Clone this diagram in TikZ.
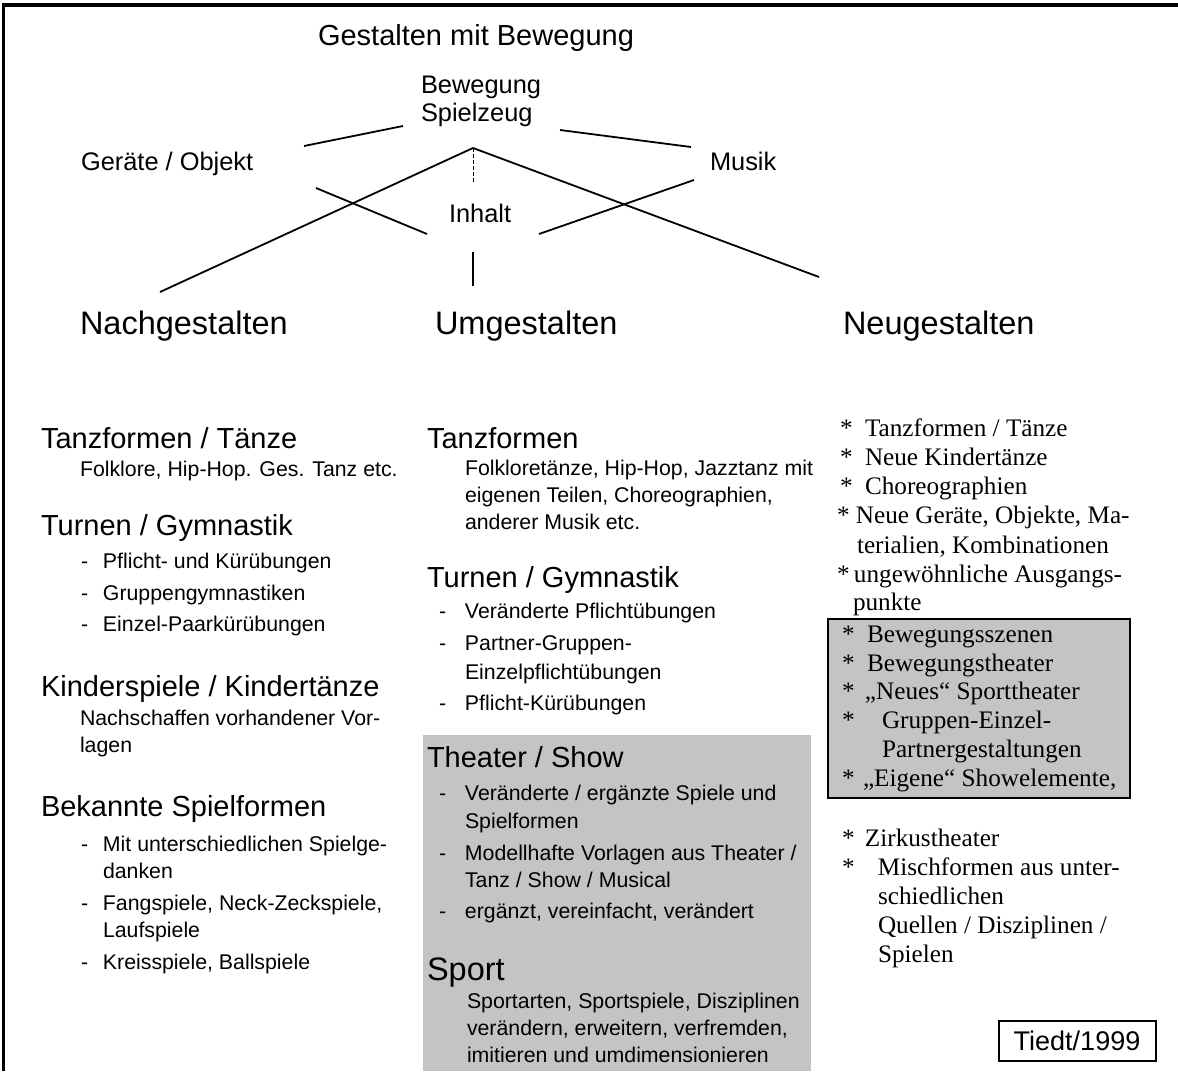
\documentclass[tikz,border=0pt]{standalone}
\usepackage{fontspec}
\setmainfont{Liberation Sans}
\newfontfamily\serifrm{Liberation Serif}
\definecolor{boxgray}{RGB}{196,196,196}
\begin{document}
\begin{tikzpicture}[x=1pt,y=-1pt,
  t/.style={anchor=base west,inner sep=0pt,outer sep=0pt},
  toptitle/.style={t,font=\fontsize{29}{34}\selectfont},
  apexlbl/.style={t,font=\fontsize{25.4}{28}\selectfont},
  colhead/.style={t,font=\fontsize{32.5}{38}\selectfont},
  sechead/.style={t,font=\fontsize{29}{34}\selectfont},
  subtxt/.style={t,font=\fontsize{21.3}{26}\selectfont},
  sertxt/.style={t,font=\serifrm\fontsize{25.2}{29}\selectfont},
  conn/.style={line width=1.8pt},
  frameline/.style={line width=3.5pt},
  graybox/.style={fill=boxgray,draw=none},
  grayframe/.style={fill=boxgray,draw=black,line width=2.2pt},
  signbox/.style={draw=black,line width=2pt,fill=white}
]
\useasboundingbox (0,0) rectangle (1178,1071);
\fill[white] (0,0) rectangle (1178,1071);
% frame
\draw[frameline] (1.5,5) -- (1178,5);
\draw[line width=3pt] (3,3) -- (3,1071);

% gray areas
\path[graybox] (423,735) rectangle (811,1071);
\path[grayframe] (828,619) rectangle (1130,798);
\node[signbox,minimum width=157pt,minimum height=40pt,inner sep=0pt,
      font=\fontsize{27}{30}\selectfont] (sign) at (1077,1041) {Tiedt/1999};

% top part
\node[toptitle] (title) at (318,45) {Gestalten mit Bewegung};
\node[apexlbl] (bew) at (421,93) {Bewegung};
\node[apexlbl] (spiel) at (421,121) {Spielzeug};
\node[apexlbl] (geraete) at (81,170) {Geräte / Objekt};
\node[apexlbl] (musik) at (710,170) {Musik};
\node[apexlbl] (inhalt) at (449,222) {Inhalt};

\coordinate (gA) at (304,146); \coordinate (gB) at (403,126);
\coordinate (mA) at (560,130); \coordinate (mB) at (691,147);
\coordinate (apex) at (473,148);
\coordinate (leftend) at (160,292);
\coordinate (rightend) at (819,277);
\coordinate (dashend) at (473,183);
\coordinate (vA) at (473,252); \coordinate (vB) at (473,286);
\coordinate (xlA) at (316,188); \coordinate (xlB) at (427,234);
\coordinate (xrA) at (694,180); \coordinate (xrB) at (539,234);

\draw[conn] (gA) -- (gB);
\draw[conn] (mA) -- (mB);
\draw[conn] (apex) -- (leftend);
\draw[conn] (apex) -- (rightend);
\draw[line width=0.8pt,dash pattern=on 4pt off 2pt] (apex) -- (dashend);
\draw[line width=1.4pt] (vA) -- (vB);
\draw[conn] (xlA) -- (xlB);
\draw[conn] (xrA) -- (xrB);

% column headings
\node[colhead] (nach) at (80,334) {Nachgestalten};
\node[colhead] (um) at (435,334) {Umgestalten};
\node[colhead] (neu) at (843,334) {Neugestalten};

% left column
\node[sechead] (l1) at (41,448) {Tanzformen / Tänze};
\node[subtxt] (l1a) at (80,476) {Folklore, Hip-Hop. Ges. Tanz etc.};
\node[sechead] (l2) at (41,535) {Turnen / Gymnastik};
\node[subtxt] (l2a) at (81,568) {\makebox[22pt][l]{-}Pflicht- und Kürübungen};
\node[subtxt] (l2b) at (81,600) {\makebox[22pt][l]{-}Gruppengymnastiken};
\node[subtxt] (l2c) at (81,631) {\makebox[22pt][l]{-}Einzel-Paarkürübungen};
\node[sechead] (l3) at (41,696) {Kinderspiele / Kindertänze};
\node[subtxt] (l3a) at (80,725) {Nachschaffen vorhandener Vor-};
\node[subtxt] (l3b) at (80,752) {lagen};
\node[sechead] (l4) at (41,816) {Bekannte Spielformen};
\node[subtxt] (l4a) at (81,851) {\makebox[22pt][l]{-}Mit unterschiedlichen Spielge-};
\node[subtxt] (l4b) at (103,878) {danken};
\node[subtxt] (l4c) at (81,910) {\makebox[22pt][l]{-}Fangspiele, Neck-Zeckspiele,};
\node[subtxt] (l4d) at (103,937) {Laufspiele};
\node[subtxt] (l4e) at (81,969) {\makebox[22pt][l]{-}Kreisspiele, Ballspiele};

% middle column
\node[sechead] (m1) at (427,448) {Tanzformen};
\node[subtxt] (m1a) at (465,475) {Folkloretänze, Hip-Hop, Jazztanz mit};
\node[subtxt] (m1b) at (465,502) {eigenen Teilen, Choreographien,};
\node[subtxt] (m1c) at (465,529) {anderer Musik etc.};
\node[sechead] (m2) at (427,587) {Turnen / Gymnastik};
\node[subtxt] (m2a) at (439,618) {\makebox[26pt][l]{-}Veränderte Pflichtübungen};
\node[subtxt] (m2b) at (439,650) {\makebox[26pt][l]{-}Partner-Gruppen-};
\node[subtxt] (m2c) at (465,679) {Einzelpflichtübungen};
\node[subtxt] (m2d) at (439,710) {\makebox[26pt][l]{-}Pflicht-Kürübungen};
\node[sechead] (m3) at (427,767) {Theater / Show};
\node[subtxt] (m3a) at (439,800) {\makebox[26pt][l]{-}Veränderte / ergänzte Spiele und};
\node[subtxt] (m3b) at (465,828) {Spielformen};
\node[subtxt] (m3c) at (439,860) {\makebox[26pt][l]{-}Modellhafte Vorlagen aus Theater /};
\node[subtxt] (m3d) at (465,887) {Tanz / Show / Musical};
\node[subtxt] (m3e) at (439,918) {\makebox[26pt][l]{-}ergänzt, vereinfacht, verändert};
\node[colhead] (m4) at (427,980) {Sport};
\node[subtxt] (m4a) at (467,1008) {Sportarten, Sportspiele, Disziplinen};
\node[subtxt] (m4b) at (467,1035) {verändern, erweitern, verfremden,};
\node[subtxt] (m4c) at (467,1062) {imitieren und umdimensionieren};

% right column
\node[sertxt] (r1) at (840,436) {\makebox[25pt][l]{*}Tanzformen / Tänze};
\node[sertxt] (r2) at (840,465) {\makebox[25pt][l]{*}Neue Kindertänze};
\node[sertxt] (r3) at (840,494) {\makebox[25pt][l]{*}Choreographien};
\node[sertxt] (r4) at (837,523) {\makebox[19pt][l]{*}Neue Geräte, Objekte, Ma-};
\node[sertxt] (r4b) at (857,553) {terialien, Kombinationen};
\node[sertxt] (r5) at (837,582) {\makebox[17pt][l]{*}ungewöhnliche Ausgangs-};
\node[sertxt] (r5b) at (853,610) {punkte};
\node[sertxt] (r6) at (842,642) {\makebox[25pt][l]{*}Bewegungsszenen};
\node[sertxt] (r7) at (842,671) {\makebox[25pt][l]{*}Bewegungstheater};
\node[sertxt] (r8) at (842,699) {\makebox[23pt][l]{*}„Neues“ Sporttheater};
\node[sertxt] (r9) at (842,728) {\makebox[40pt][l]{*}Gruppen-Einzel-};
\node[sertxt] (r9b) at (882,757) {Partnergestaltungen};
\node[sertxt] (r10) at (842,786) {\makebox[21pt][l]{*}„Eigene“ Showelemente,};
\node[sertxt] (r11) at (842,846) {\makebox[23pt][l]{*}Zirkustheater};
\node[sertxt] (r12) at (842,875) {\makebox[36pt][l]{*}Mischformen aus unter-};
\node[sertxt] (r12b) at (878,904) {schiedlichen};
\node[sertxt] (r12c) at (878,933) {Quellen / Disziplinen /};
\node[sertxt] (r12d) at (878,962) {Spielen};
\end{tikzpicture}
\end{document}
